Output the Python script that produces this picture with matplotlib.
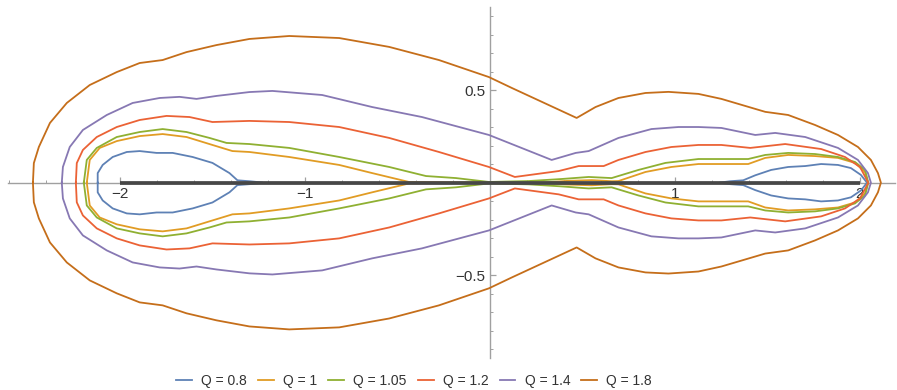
import matplotlib.pyplot as plt
from matplotlib.lines import Line2D
import numpy as np

plt.rcParams['font.family'] = ['Liberation Sans', 'DejaVu Sans']

# upper halves of the contours (the lower halves are their mirror images)
q08_left_x = [-2.119, -2.119, -2.092, -2.038, -1.962, -1.892, -1.801, -1.714, -1.606, -1.499, -1.407, -1.364, -1.30, -1.229]
q08_left_y = [0.0, 0.052, 0.096, 0.139, 0.166, 0.171, 0.161, 0.161, 0.139, 0.107, 0.052, 0.013, 0.008, 0.001]
q08_right_x = [1.245, 1.30, 1.369, 1.434, 1.520, 1.612, 1.704, 1.790, 1.881, 1.951, 2.005, 2.038]
q08_right_y = [0.001, 0.008, 0.013, 0.040, 0.069, 0.085, 0.090, 0.101, 0.096, 0.079, 0.042, 0.0]

q1_x = [-2.178, -2.162, -2.108, -2.016, -1.892, -1.768, -1.639, -1.499, -1.391, -1.299, -1.084, -0.814,
        -0.636, -0.437, -0.2, 0.3, 0.42, 0.55, 0.66, 0.695, 0.841, 0.981, 1.127, 1.396, 1.488, 1.612,
        1.757, 1.881, 1.973, 2.027, 2.043]
q1_y = [0.0, 0.123, 0.188, 0.225, 0.252, 0.263, 0.247, 0.204, 0.171, 0.166, 0.139, 0.096,
        0.052, 0.004, 0.002, 0.002, 0.010, 0.014, 0.008, 0.009, 0.058, 0.085, 0.101, 0.101, 0.134, 0.150,
        0.144, 0.134, 0.107, 0.058, 0.0]

q105_x = [-2.194, -2.178, -2.124, -2.016, -1.892, -1.768, -1.639, -1.515, -1.423, -1.299, -1.084, -0.814,
          -0.544, -0.345, -0.183, -0.005, 0.210, 0.388, 0.534, 0.658, 0.803, 0.949, 1.127, 1.396, 1.488,
          1.612, 1.757, 1.881, 1.973, 2.027, 2.045]
q105_y = [0.0, 0.123, 0.188, 0.247, 0.274, 0.290, 0.274, 0.242, 0.215, 0.209, 0.188, 0.139,
          0.085, 0.036, 0.025, 0.004, 0.009, 0.020, 0.031, 0.025, 0.069, 0.107, 0.128, 0.128, 0.150,
          0.161, 0.155, 0.139, 0.112, 0.069, 0.0]

q12_x = [-2.237, -2.232, -2.199, -2.124, -2.016, -1.892, -1.747, -1.623, -1.499, -1.299, -1.084, -0.814,
         -0.544, -0.275, -0.005, 0.135, 0.372, 0.480, 0.615, 0.695, 0.841, 0.981, 1.127, 1.251, 1.407,
         1.596, 1.790, 1.919, 2.000, 2.045]
q12_y = [0.0, 0.106, 0.177, 0.247, 0.301, 0.339, 0.361, 0.355, 0.328, 0.334, 0.328, 0.301,
         0.242, 0.166, 0.085, 0.031, 0.063, 0.090, 0.090, 0.123, 0.166, 0.193, 0.204, 0.204, 0.188,
         0.209, 0.182, 0.139, 0.085, 0.0]

q14_x = [-2.313, -2.307, -2.270, -2.199, -2.070, -1.930, -1.784, -1.677, -1.585, -1.477, -1.299, -1.175,
         -0.906, -0.636, -0.367, -0.005, 0.334, 0.464, 0.534, 0.695, 0.873, 1.019, 1.127, 1.251, 1.434,
         1.542, 1.704, 1.881, 1.989, 2.043, 2.059]
q14_y = [0.0, 0.085, 0.193, 0.285, 0.366, 0.431, 0.458, 0.464, 0.453, 0.469, 0.490, 0.496,
         0.474, 0.409, 0.355, 0.258, 0.123, 0.161, 0.171, 0.242, 0.290, 0.301, 0.301, 0.296, 0.258,
         0.269, 0.247, 0.188, 0.123, 0.052, 0.0]

q18_x = [-2.469, -2.464, -2.437, -2.377, -2.286, -2.162, -2.016, -1.892, -1.768, -1.639, -1.477, -1.299,
         -1.084, -0.814, -0.544, -0.275, -0.005, 0.119, 0.469, 0.571, 0.695, 0.841, 0.965, 1.127, 1.251,
         1.488, 1.612, 1.757, 1.881, 1.989, 2.059, 2.097, 2.113]
q18_y = [0.0, 0.106, 0.193, 0.323, 0.431, 0.528, 0.598, 0.647, 0.663, 0.706, 0.744, 0.777,
         0.793, 0.782, 0.734, 0.663, 0.571, 0.512, 0.350, 0.409, 0.458, 0.485, 0.491, 0.480, 0.453,
         0.383, 0.366, 0.312, 0.258, 0.193, 0.123, 0.052, 0.0]

cut_x = [-2, 2]
cut_y = [0, 0]

labels = ['Q = 0.8', 'Q = 1', 'Q = 1.05', 'Q = 1.2', 'Q = 1.4', 'Q = 1.8']
colors = ['#5E81B5', '#E19C24', '#8FB032', '#EB6235', '#8778B3', '#C56E1A']


def closed(xs, ys):
    xs = np.array(xs)
    ys = np.array(ys)
    return np.concatenate([xs, xs[::-1]]), np.concatenate([ys, -ys[::-1]])


curves = [
    [(q08_left_x, q08_left_y), (q08_right_x, q08_right_y)],
    [(q1_x, q1_y)],
    [(q105_x, q105_y)],
    [(q12_x, q12_y)],
    [(q14_x, q14_y)],
    [(q18_x, q18_y)],
]

fig = plt.figure(figsize=(8.97, 3.9), dpi=100)
ax = fig.add_axes([0, 28 / 390, 1, 362 / 390])

for parts, c in zip(curves, colors):
    for xs, ys in parts:
        cx, cy = closed(xs, ys)
        ax.plot(cx, cy, color=c, lw=1.3, solid_joinstyle='round', zorder=2)

ax.plot(cut_x, cut_y, color='#474747', lw=2.7, solid_capstyle='butt', zorder=3)

ax.set_xlim(-491 / 185.5, 406 / 185.5)
ax.set_ylim(-179.3 / 185, 182.7 / 185)

for s in ['top', 'right']:
    ax.spines[s].set_visible(False)
ax.spines['bottom'].set_position('zero')
ax.spines['left'].set_position('zero')
ax.spines['bottom'].set_bounds(-2.604, 2.19)
ax.spines['left'].set_bounds(-0.948, 0.95)
for s in ['bottom', 'left']:
    ax.spines[s].set_color('#a0a0a0')
    ax.spines[s].set_linewidth(1.0)
    ax.spines[s].set_zorder(1)

ax.set_xticks([-2, -1, 1, 2])
ax.set_xticklabels(['\u22122', '\u22121', '1', '2'])
ax.set_xticks([v for v in np.round(np.arange(-2.6, 2.2, 0.2), 1) if v not in (-2, -1, 0, 1, 2)], minor=True)
ax.set_yticks([-0.5, 0.5])
ax.set_yticklabels(['\u22120.5', '0.5'])
ax.set_yticks([v for v in np.round(np.arange(-0.9, 1.0, 0.1), 1) if v not in (-0.5, 0, 0.5)], minor=True)

ax.tick_params(which='both', direction='in', color='#a0a0a0', labelcolor='#333333', labelsize=11)
ax.tick_params(which='major', length=4.3, width=0.9, pad=3)
ax.tick_params(which='minor', length=2.2, width=0.7)

handles = [Line2D([0], [0], color=c, lw=1.3) for c in colors]
fig.legend(handles, labels, loc='center', bbox_to_anchor=(0.4615, 0.023), ncol=6, frameon=False,
           fontsize=10, handlelength=1.15, handletextpad=0.65, columnspacing=0.8, labelcolor='#333333')

fig.savefig('out.png', dpi=100)
